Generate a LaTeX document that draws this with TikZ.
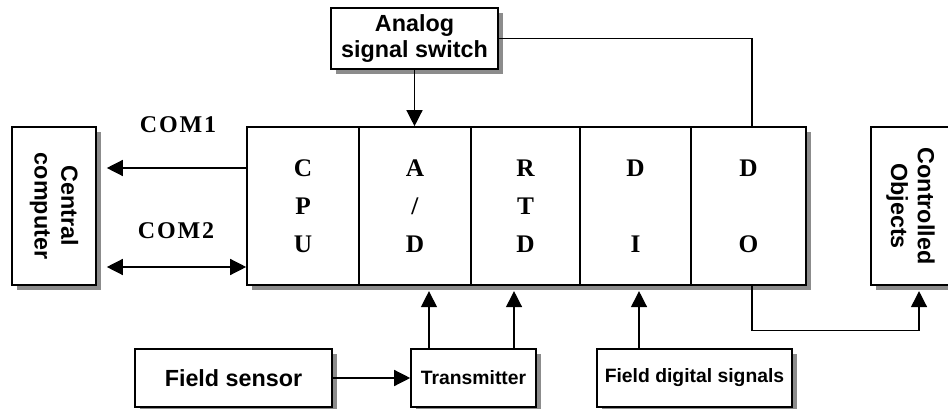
\documentclass[tikz,border=0pt]{standalone}
\usepackage{fontspec}
\setmainfont{Liberation Serif}
\setsansfont{Liberation Sans}
\usetikzlibrary{arrows.meta,shadows}
\newcommand{\BoxFont}{\sffamily\bfseries\fontsize{17.5}{20}\selectfont}
\newcommand{\CellFont}{\rmfamily\bfseries\fontsize{19}{28.5}\selectfont}

\begin{document}
\begin{tikzpicture}[x=0.75pt,y=-0.75pt,
  box/.style={draw, line width=1.2pt, fill=white, inner sep=0pt, align=center, font=\BoxFont,
    drop shadow={shadow xshift=3.75pt, shadow yshift=-3.75pt, fill=black!45, opacity=1}},
  cell/.style={draw, line width=1.2pt, fill=white, inner sep=0pt, align=center, font=\CellFont,
    minimum height=158*0.75pt},
  arr/.style={line width=1pt, -{Triangle[length=12pt,width=12pt]}},
  arrboth/.style={line width=1pt, {Triangle[length=12pt,width=12pt]}-{Triangle[length=12pt,width=12pt]}}]

\useasboundingbox (0,0) rectangle (948,409);

% main board with the five cards
\node[box, minimum width=559*0.75pt, minimum height=158*0.75pt] (board) at (526.5,206) {};
\node[cell, minimum width=112*0.75pt] (cpu) at (303,206) {C\\P\\U};
\node[cell, minimum width=112*0.75pt] (ad) at (415,206) {A\\/\\D};
\node[cell, minimum width=109*0.75pt] (rtd) at (525.5,206) {R\\T\\D};
\node[cell, minimum width=111*0.75pt] (di) at (635.5,206) {D\\[28.5pt]I};
\node[cell, minimum width=115*0.75pt] (do) at (748.5,206) {D\\[28.5pt]O};

% boxes around it
\node[box, minimum width=167*0.75pt, minimum height=61*0.75pt] (sw) at (414.5,38.5) {Analog\\signal switch};
\node[box, minimum width=84*0.75pt, minimum height=158*0.75pt,
  label={[rotate=-90, align=center, font=\BoxFont]center:Central\\computer}] (comp) at (54,206) {};
\node[box, minimum width=79*0.75pt, minimum height=158*0.75pt,
  label={[rotate=-90, align=center, font=\BoxFont]center:Controlled\\Objects}] (co) at (910.5,206) {};
\node[box, minimum width=197*0.75pt, minimum height=58*0.75pt] (fs) at (233.5,378) {Field sensor};
\node[box, minimum width=125*0.75pt, minimum height=58*0.75pt, font=\sffamily\bfseries\fontsize{14.5}{17}\selectfont] (tr) at (473.5,378) {Transmitter};
\node[box, minimum width=195*0.75pt, minimum height=58*0.75pt, font=\sffamily\bfseries\fontsize{14.5}{17}\selectfont] (fd) at (694.5,378) {Field digital signals};

% serial ports
\node[font=\rmfamily\bfseries\fontsize{18}{20}\selectfont\addfontfeature{LetterSpace=8}] (com1) at (178,125) {COM1};
\node[font=\rmfamily\bfseries\fontsize{18}{20}\selectfont\addfontfeature{LetterSpace=8}] (com2) at (176,231) {COM2};
\draw[arr, shorten >=7.5pt] ([yshift=28.5pt]cpu.west) -- ([yshift=28.5pt]comp.east);
\draw[arrboth, shorten <=7.5pt] ([yshift=-45.75pt]comp.east) -- ([yshift=-45.75pt]cpu.west);

% signal lines
\draw[arr] (sw.south) -- (sw.south |- ad.north);
\draw[line width=1pt] (sw.east) -| ([xshift=2.6pt]do.north);
\draw[arr] (fs.east) -- (tr.west);
\draw[arr, shorten >=4pt] ([xshift=-33.4pt]tr.north) -- ([xshift=-33.4pt]tr.north |- ad.south);
\draw[arr, shorten >=4pt] ([xshift=30.4pt]tr.north) -- ([xshift=30.4pt]tr.north |- rtd.south);
\draw[arr, shorten >=4pt] ([xshift=-41.6pt]fd.north) -- ([xshift=-41.6pt]fd.north |- di.south);
\draw[arr, shorten >=4pt] ([xshift=2.6pt]do.south) -- ++(0,45) -| ([xshift=6.4pt]co.south);

\end{tikzpicture}
\end{document}
